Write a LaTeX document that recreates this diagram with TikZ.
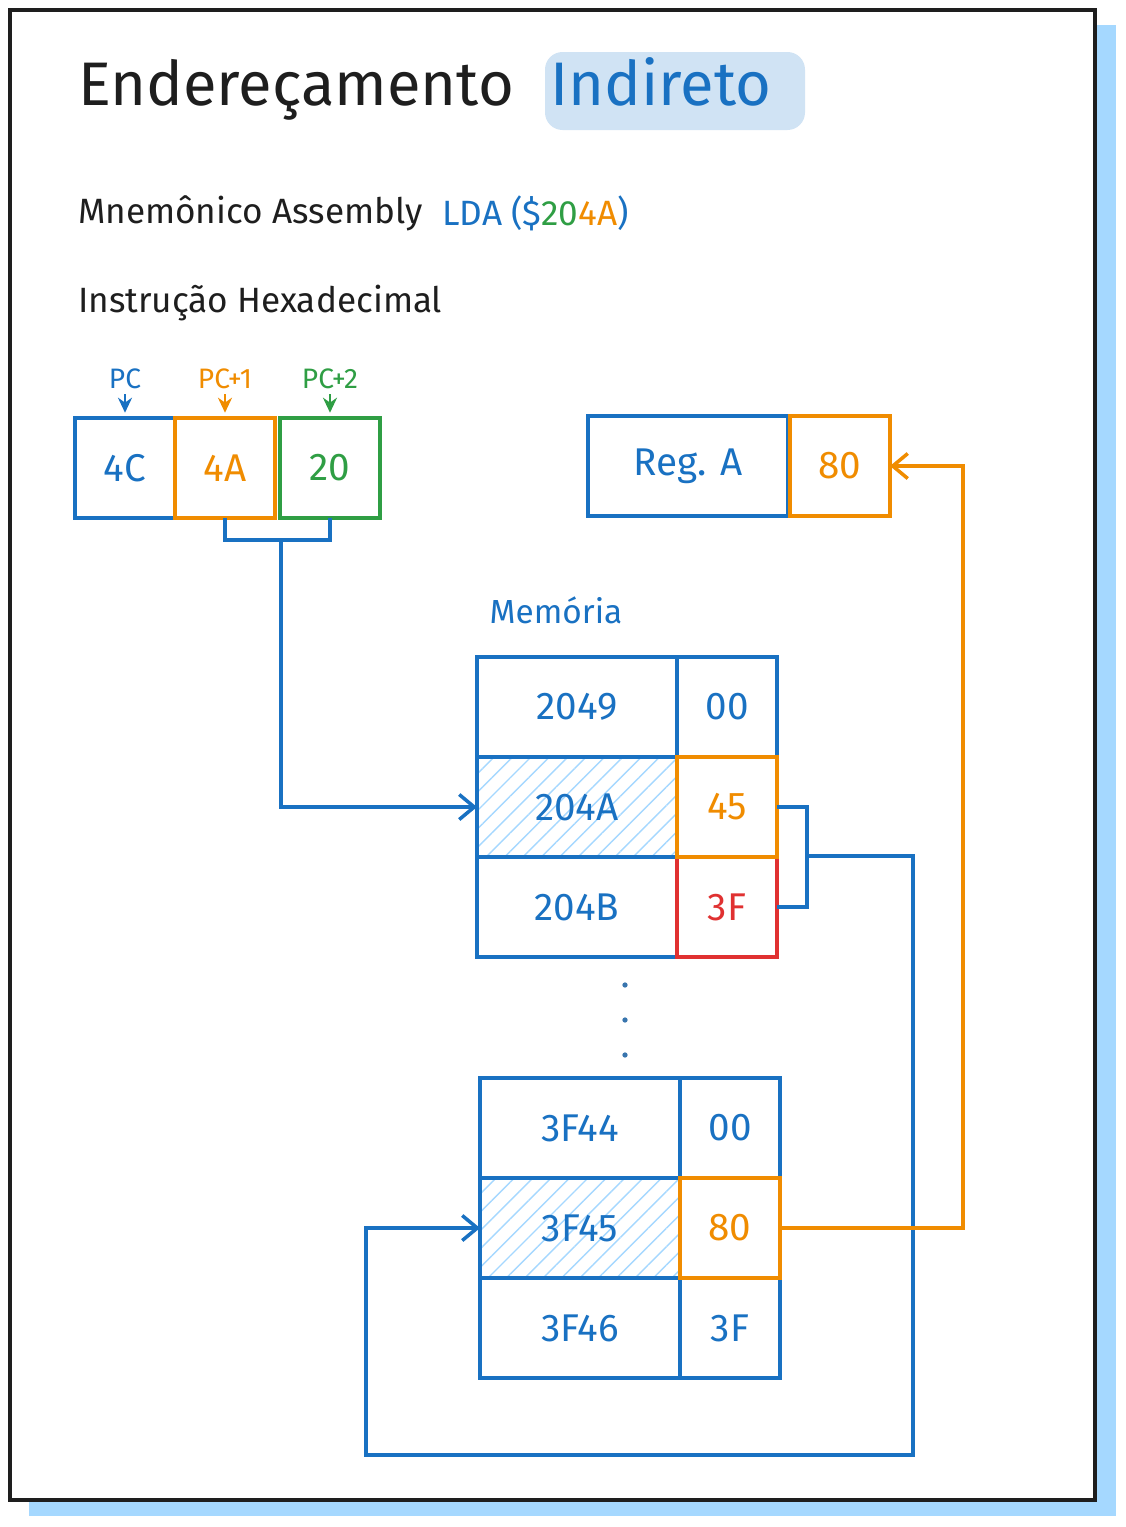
\documentclass[tikz,border=0pt]{standalone}
\usepackage{fontspec}
\setmainfont{Fira Sans}
\usetikzlibrary{arrows.meta, positioning, patterns.meta}
\definecolor{xblue}{HTML}{1971C2}
\definecolor{xorange}{HTML}{F08C00}
\definecolor{xgreen}{HTML}{2F9E44}
\definecolor{xred}{HTML}{E03131}
\definecolor{xshadow}{HTML}{A5D8FF}
\definecolor{xink}{HTML}{1E1E1E}
\definecolor{xmark}{HTML}{D0E3F4}
\tikzstyle{cell}    = [rectangle, minimum width=2cm, minimum height=2cm, inner sep=0pt, outer sep=0pt,
                       line width=2.2pt, text centered, font=\fontsize{22}{24}\selectfont]
\tikzstyle{addr}    = [cell, minimum width=4cm, draw=xblue, text=xblue]
\tikzstyle{hatched} = [pattern={Lines[angle=45, distance=2.6mm, line width=0.8pt]}, pattern color=xshadow]
\tikzstyle{heading} = [anchor=west, font=\fontsize{20}{22}\selectfont, text=xink]
\tikzstyle{pclabel} = [font=\fontsize{16}{18}\selectfont, inner sep=1pt]
\tikzstyle{arrow}   = [-{Straight Barb[length=3mm, width=5mm]}, line width=2pt]
\tikzstyle{pcarrow} = [-{Stealth[length=3mm, width=2.8mm]}, line width=1.6pt, shorten <=2pt, shorten >=3pt]
\tikzstyle{wire}    = [line width=2pt, draw=xblue]

\begin{document}
\begin{tikzpicture}[x=0.2mm, y=-0.2mm]
    \useasboundingbox (0,0) rectangle (1126,1527);
    % frame
    \fill[xshadow] (29,25) rectangle (1116,1516);
    \draw[xink, line width=2.4pt, fill=white] (10,10) rectangle (1095,1500);

    % title
    \fill[xmark, rounded corners=10pt] (545,52) rectangle (805,130);
    \node (title) [anchor=base west, inner sep=0pt, font=\fontsize{35}{40}\selectfont, text=xink] at (78,105) {Endereçamento};
    \node (titleb) [anchor=base west, inner sep=0pt, font=\fontsize{35}{40}\selectfont, text=xblue] at (550,105) {Indireto};
    \node (mnem) [heading] at (72,213) {Mnemônico Assembly};
    \node (lda) [heading, text=xblue] at (436,213) {LDA (\$\textcolor{xgreen}{20}\textcolor{xorange}{4A})};
    \node (instr) [heading] at (72,303) {Instrução Hexadecimal};

    % instruction bytes
    \node (op) [cell, draw=xblue, text=xblue] at (125,468) {4C};
    \node (lo) [cell, draw=xorange, text=xorange, right=0pt of op] {4A};
    \node (hi) [cell, draw=xgreen, text=xgreen, right=0.1cm of lo] {20};
    \node (pc) [pclabel, text=xblue, above=0.55cm of op] {PC};
    \node (pc1) [pclabel, text=xorange, above=0.55cm of lo] {PC+1};
    \node (pc2) [pclabel, text=xgreen, above=0.55cm of hi] {PC+2};
    \draw[pcarrow, xblue] (pc) -- (op);
    \draw[pcarrow, xorange] (pc1) -- (lo);
    \draw[pcarrow, xgreen] (pc2) -- (hi);

    % register
    \node (rega) [addr] at (688,466) {Reg. A};
    \node (regv) [cell, draw=xorange, text=xorange, right=0.04cm of rega] {80};

    % memory
    \node (mem) [heading, anchor=center, font=\fontsize{19}{21}\selectfont, text=xblue] at (556,610) {Memória};
    \node (m2049) [addr] at (577,707) {2049};
    \node (v2049) [cell, draw=xblue, text=xblue, right=0pt of m2049] {00};
    \node (m204A) [addr, hatched, below=0pt of m2049] {204A};
    \node (m204B) [addr, below=0pt of m204A] {204B};
    \node (v204B) [cell, draw=xred, text=xred, right=0pt of m204B] {3F};
    \node (v204A) [cell, draw=xorange, text=xorange, right=0pt of m204A] {45};

    \foreach \y in {985,1020,1055}
        \fill[xblue!70!gray] (625,\y) circle (1.5pt);

    \node (m3F44) [addr] at (580,1128) {3F44};
    \node (v3F44) [cell, draw=xblue, text=xblue, right=0pt of m3F44] {00};
    \node (m3F45) [addr, hatched, below=0pt of m3F44] {3F45};
    \node (m3F46) [addr, below=0pt of m3F45] {3F46};
    \node (v3F46) [cell, draw=xblue, text=xblue, right=0pt of m3F46] {3F};
    \node (v3F45) [cell, draw=xorange, text=xorange, right=0pt of m3F45] {80};

    % connectors
    \coordinate (split) at (281,540);
    \draw[wire] (lo.south) |- (split) -| (hi.south);
    \draw[wire, arrow] (split) |- (m204A.west);

    \coordinate (join) at (807,856);
    \coordinate (loopa) at (913,1455);
    \coordinate (loopb) at (366,1455);
    \draw[wire] (v204A.east) -| (join) |- (v204B.east);
    \draw[wire, arrow] (join) -| (loopa) -- (loopb) |- (m3F45.west);

    \coordinate (up) at (963,900);
    \draw[wire, draw=xorange, arrow] (v3F45.east) -| (up) |- (regv.east);
\end{tikzpicture}
\end{document}
